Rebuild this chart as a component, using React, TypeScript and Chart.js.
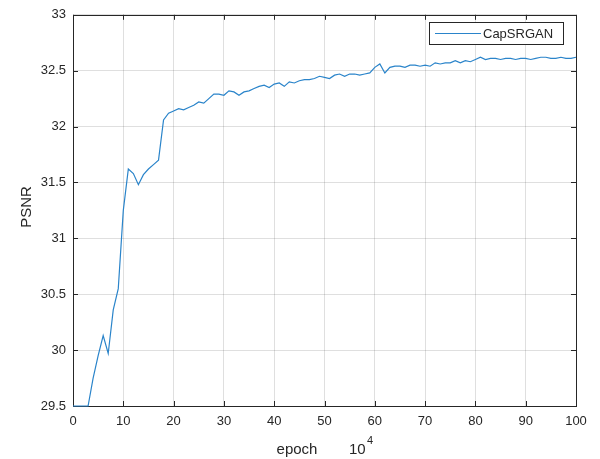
import React, { useEffect, useRef } from "react";
import { Chart, registerables } from "chart.js";

Chart.register(...registerables);

const seriesLabel = "CapSRGAN";
const psnr = [
  29.5, 29.5, 29.5, 29.5, 29.75, 29.95, 30.13, 29.97, 30.36, 30.55,
  31.25, 31.62, 31.58, 31.48, 31.57, 31.62, 31.66, 31.7, 32.06, 32.12,
  32.14, 32.16, 32.15, 32.17, 32.19, 32.22, 32.21, 32.25, 32.29, 32.29,
  32.28, 32.32, 32.31, 32.28, 32.31, 32.32, 32.34, 32.36, 32.37, 32.35,
  32.38, 32.39, 32.36, 32.4, 32.39, 32.41, 32.42, 32.42, 32.43, 32.45,
  32.44, 32.43, 32.46, 32.47, 32.45, 32.47, 32.47, 32.46, 32.47, 32.48,
  32.53, 32.56, 32.48, 32.53, 32.54, 32.54, 32.53, 32.55, 32.55, 32.54,
  32.55, 32.54, 32.57, 32.56, 32.57, 32.57, 32.59, 32.57, 32.59, 32.58,
  32.6, 32.62, 32.6, 32.61, 32.61, 32.6, 32.61, 32.61, 32.6, 32.61,
  32.61, 32.6, 32.61, 32.62, 32.62, 32.61, 32.61, 32.62, 32.61, 32.61,
  32.62,
];
const xMin = 0;
const xMax = 100;
const xStep = 10;
const yMin = 29.5;
const yMax = 33;
const yStep = 0.5;
const xTitle = "epoch";
const xExponent = "4";
const yTitle = "PSNR";

const FONT = "'Liberation Sans', Arial, sans-serif";
const AX = "#262626";
const LINE = "#2a84ca";

const decorPlugin = {
  id: "decor",
  beforeDatasetsDraw(chart: any) {
    const { ctx, chartArea: a, scales } = chart;
    const xs = scales.x;
    const ys = scales.y;
    ctx.save();
    ctx.strokeStyle = AX;
    ctx.lineWidth = 1;
    ctx.strokeRect(Math.round(a.left) + 0.5, Math.round(a.top) + 0.5, Math.round(a.right - a.left), Math.round(a.bottom - a.top));
    const tl = 5;
    ctx.beginPath();
    for (const t of xs.ticks) {
      const px = Math.round(xs.getPixelForValue(t.value)) + 0.5;
      ctx.moveTo(px, a.bottom);
      ctx.lineTo(px, a.bottom - tl);
      ctx.moveTo(px, a.top);
      ctx.lineTo(px, a.top + tl);
    }
    for (const t of ys.ticks) {
      const py = Math.round(ys.getPixelForValue(t.value)) + 0.5;
      ctx.moveTo(a.left, py);
      ctx.lineTo(a.left + tl, py);
      ctx.moveTo(a.right, py);
      ctx.lineTo(a.right - tl, py);
    }
    ctx.stroke();
    ctx.restore();
  },
  afterDraw(chart: any) {
    const { ctx } = chart;
    ctx.save();
    ctx.fillStyle = AX;
    ctx.font = `15px ${FONT}`;
    ctx.textAlign = "center";
    ctx.textBaseline = "middle";
    ctx.fillText(xTitle, 297, 450);
    ctx.textAlign = "left";
    ctx.font = `15px ${FONT}`;
    ctx.fillText("10", 349, 450);
    ctx.font = `11px ${FONT}`;
    ctx.fillText(xExponent, 367, 441);
    ctx.save();
    ctx.translate(27, 207);
    ctx.rotate(-Math.PI / 2);
    ctx.textAlign = "center";
    ctx.font = `15px ${FONT}`;
    ctx.fillText(yTitle, 0, 0);
    ctx.restore();
    const lx = 429, ly = 22, lw = 134, lh = 22;
    ctx.fillStyle = "#ffffff";
    ctx.fillRect(lx, ly, lw, lh);
    ctx.strokeStyle = AX;
    ctx.lineWidth = 1;
    ctx.strokeRect(lx + 0.5, ly + 0.5, lw, lh);
    ctx.strokeStyle = LINE;
    ctx.lineWidth = 1.2;
    ctx.beginPath();
    ctx.moveTo(435, ly + lh / 2 + 0.5);
    ctx.lineTo(481, ly + lh / 2 + 0.5);
    ctx.stroke();
    ctx.fillStyle = AX;
    ctx.font = `13px ${FONT}`;
    ctx.textAlign = "left";
    ctx.textBaseline = "middle";
    ctx.fillText(seriesLabel, 483, ly + lh / 2 + 1);
    ctx.restore();
  },
};

export default function App() {
  const ref = useRef<HTMLCanvasElement | null>(null);
  useEffect(() => {
    document.body.style.margin = "0";
    const canvas = ref.current!;
    const chart = new Chart(canvas, {
      type: "line",
      data: {
        datasets: [
          {
            label: seriesLabel,
            data: psnr.map((v, i) => ({ x: i, y: v })),
            borderColor: LINE,
            borderWidth: 1.2,
            pointRadius: 0,
            tension: 0,
            fill: false,
            clip: 2,
          },
        ],
      },
      options: {
        responsive: false,
        animation: false,
        layout: { padding: { top: 8, right: 24, left: 0, bottom: 0 } },
        plugins: { legend: { display: false }, tooltip: { enabled: false } },
        scales: {
          x: {
            type: "linear",
            min: xMin,
            max: xMax,
            ticks: { stepSize: xStep, color: AX, font: { family: FONT, size: 13 }, padding: 8, maxRotation: 0 },
            grid: { color: "rgba(38,38,38,0.15)", drawTicks: false },
            border: { display: false },
            afterFit(s: any) {
              s.height = 53;
            },
          },
          y: {
            type: "linear",
            min: yMin,
            max: yMax,
            ticks: {
              stepSize: yStep,
              color: AX,
              font: { family: FONT, size: 13 },
              padding: 7,
              callback: (v: any) => `${+v}`,
            },
            grid: { color: "rgba(38,38,38,0.15)", drawTicks: false },
            border: { display: false },
            afterFit(s: any) {
              s.width = 73;
            },
          },
        },
      },
      plugins: [decorPlugin],
    });
    return () => chart.destroy();
  }, []);
  return <canvas ref={ref} width={600} height={459} style={{ display: "block" }} />;
}
